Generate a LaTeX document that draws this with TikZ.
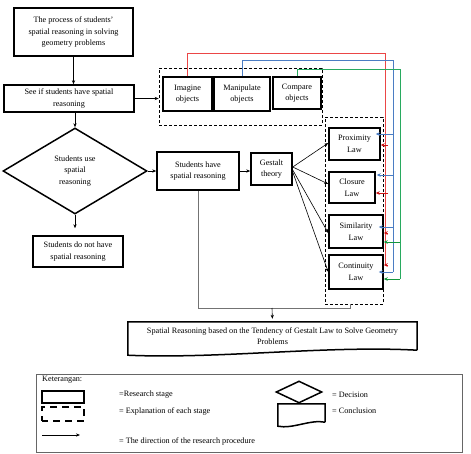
\documentclass[tikz,border=0pt]{standalone}
\usepackage{fontspec}
\setmainfont{Liberation Serif}
\usetikzlibrary{shapes.geometric,arrows.meta}
\definecolor{linkRed}{RGB}{235,70,70}
\definecolor{tipRed}{RGB}{205,20,20}
\definecolor{linkBlue}{RGB}{75,125,195}
\definecolor{linkGreen}{RGB}{40,170,95}
\definecolor{tipGreen}{RGB}{20,150,60}

\begin{document}
\begin{tikzpicture}[
  stagebox/.style={draw=\flowLineColor, line width=\flowBoxLineWidth, align=center, inner sep=0pt, font=\flowFont},
  decbox/.style={diamond, draw=\flowLineColor, line width=\flowBoxLineWidth, align=center, inner sep=0pt, font=\flowFont},
  explframe/.style={draw=\flowLineColor, dash pattern=on 3pt off 2pt, line width=0.6pt, inner sep=0pt},
  concltext/.style={align=center, inner sep=0pt, font=\flowFont},
  legtext/.style={anchor=west, inner sep=0pt, font=\flowFont},
  flow/.style={draw=\flowLineColor, line width=0.6pt, -{Stealth[length=4pt,width=3.2pt]}},
  redlink/.style={draw=\linkRedColor, line width=1pt},
  bluelink/.style={draw=\linkBlueColor, line width=1pt},
  greenlink/.style={draw=\linkGreenColor, line width=1pt},
  redtip/.style={draw=\tipRedColor, line width=0.7pt, -{Stealth[length=4pt,width=3.6pt]}},
  bluetip/.style={draw=\linkBlueColor, line width=0.7pt, -{Stealth[length=4pt,width=3.6pt]}},
  greentip/.style={draw=\tipGreenColor, line width=0.7pt, -{Stealth[length=4pt,width=3.6pt]}}
]
% Flow chart of the research procedure
\def\pxsz{1pt}
\providecommand{\flowFont}{\fontsize{8.2}{11.5}\selectfont}
\providecommand{\flowLineColor}{black}
\providecommand{\flowBoxLineWidth}{1.5pt}
\providecommand{\mergeLineColor}{black!55}
\providecommand{\linkRedColor}{linkRed}
\providecommand{\tipRedColor}{tipRed}
\providecommand{\linkBlueColor}{linkBlue}
\providecommand{\linkGreenColor}{linkGreen}
\providecommand{\tipGreenColor}{tipGreen}
\begin{scope}[x=\pxsz, y=-\pxsz, line join=miter]
  \useasboundingbox (0,0) rectangle (471,453);
  % Research stages on the left
  \node[stagebox, minimum width=119pt, minimum height=48pt] (process) at (73.5,32) {The process of students'\\spatial reasoning in solving\\geometry problems};
  \node[stagebox, minimum width=130pt, minimum height=27pt] (seeif) at (69,98.5) {See if students have spatial\\reasoning};
  \node[decbox, minimum width=144pt, minimum height=86pt] (useq) at (75,171) {Students use\\spatial\\reasoning};
  \node[stagebox, minimum width=90pt, minimum height=31pt] (nohave) at (78,251.5) {Students do not have\\spatial reasoning};
  \node[stagebox, minimum width=82pt, minimum height=38pt] (have) at (198,171) {Students have\\spatial reasoning};
  \node[stagebox, minimum width=41pt, minimum height=32pt] (gestalt) at (271.5,169) {Gestalt\\theory};
  % Explanation of spatial reasoning
  \node[explframe, minimum width=163pt, minimum height=57pt] (objfrm) at (240.5,96.5) {};
  \node[stagebox, minimum width=49pt, minimum height=34pt] (imag) at (187.5,94) {Imagine\\objects};
  \node[stagebox, minimum width=56pt, minimum height=34pt] (manip) at (242,94) {Manipulate\\objects};
  \node[stagebox, minimum width=48pt, minimum height=32pt] (compare) at (297,93) {Compare\\objects};
  % Gestalt laws
  \node[explframe, minimum width=58pt, minimum height=187pt] (lawfrm) at (354,210.5) {};
  \node[stagebox, minimum width=51pt, minimum height=32pt] (prox) at (354.5,144) {Proximity\\Law};
  \node[stagebox, minimum width=46pt, minimum height=31pt] (clos) at (352,187.5) {Closure\\Law};
  \node[stagebox, minimum width=54pt, minimum height=33pt] (simil) at (356,231.5) {Similarity\\Law};
  \node[stagebox, minimum width=54pt, minimum height=34pt] (contin) at (356,272) {Continuity\\Law};
  % Conclusion
  \node[concltext, minimum width=289pt, minimum height=28pt] (concl) at (272.5,336) {Spatial Reasoning based on the Tendency of Gestalt Law to Solve Geometry\\Problems};
  \draw[line width=\flowBoxLineWidth] (concl.south east) -- (concl.north east) -- (concl.north west) -- ([yshift=-5pt]concl.south west) .. controls +(90,4) and +(-90,-5) .. (concl.south east);
  % Procedure arrows
  \draw[flow] (process.south) -- (process.south |- seeif.north);
  \draw[flow] (seeif.east) -- (seeif.east -| objfrm.west);
  \draw[flow] (useq.north |- seeif.south) -- (useq.north);
  \draw[flow, shorten >=7pt] (useq.south) -- (useq.south |- nohave.north);
  \draw[flow] (useq.east) -- (useq.east -| have.west);
  \draw[flow] (have.east) -- (have.east -| gestalt.west);
  \draw[flow] ([yshift=2pt]gestalt.east) -- ([yshift=1pt]prox.west);
  \draw[flow] ([yshift=2pt]gestalt.east) -- ([yshift=3.5pt]clos.west);
  \draw[flow] ([yshift=-1pt]gestalt.east) -- ([yshift=-1.5pt]simil.west);
  \draw[flow] ([yshift=-3pt]gestalt.east) -- (contin.west);
  % Merge into the conclusion
  \coordinate (mergeL) at (195,308);
  \coordinate (mergeR) at (350,308);
  \coordinate (mergeM) at (272,308);
  \draw[draw=\mergeLineColor, line width=0.7pt] (have.south) -- (have.south |- mergeL) -- (mergeR) -- (mergeR |- lawfrm.south);
  \draw[flow, shorten >=3pt] (mergeM) -- (concl.north);
  % Links from the objects to the laws
  \coordinate (redTurn) at (385,53);
  \coordinate (blueTurn) at (393,60);
  \coordinate (greenTurn) at (400,69);
  \coordinate (rProx) at ([yshift=-1pt]prox.east);
  \coordinate (rClos) at ([yshift=-5.5pt]clos.east);
  \coordinate (rSim) at ([yshift=-1.5pt]simil.east);
  \coordinate (rCont) at ([yshift=7pt]contin.east);
  \coordinate (bProx) at ([xshift=-5pt,yshift=10pt]prox.east);
  \coordinate (bClos) at ([xshift=1pt,yshift=12.5pt]clos.east);
  \coordinate (bSim) at ([xshift=-5pt,yshift=4.5pt]simil.east);
  \coordinate (bCont) at ([xshift=-5pt]contin.east);
  \coordinate (gSim) at ([yshift=-10.5pt]simil.east);
  \coordinate (gCont) at ([yshift=-7pt]contin.east);
  \draw[redlink] (imag.north) |- (redTurn) -- (redTurn |- rCont);
  \draw[bluelink] (manip.north) |- (blueTurn) -- (blueTurn |- bCont);
  \draw[greenlink] (compare.north) |- (greenTurn) -- (greenTurn |- gCont);
  \foreach \tip in {bProx,bClos,bSim,bCont}
    \draw[bluetip] (blueTurn |- \tip) -- (\tip);
  \foreach \tip in {rProx,rClos,rSim,rCont}
    \draw[redtip] ([xshift=3pt]redTurn |- \tip) -- (\tip);
  \foreach \tip in {gSim,gCont}
    \draw[greentip] (greenTurn |- \tip) -- (\tip);
  % Legend
  \node[draw=black!60, line width=0.6pt, minimum width=426pt, minimum height=78pt, inner sep=0pt] (legend) at (249,413) {};
  \node[legtext] (legtitle) at (42,380) {Keterangan:};
  \node[draw, line width=\flowBoxLineWidth, minimum width=42pt, minimum height=12pt, inner sep=0pt] (legstage) at (63,397) {};
  \node[draw, line width=\flowBoxLineWidth, dash pattern=on 7pt off 5pt, dash phase=1pt, minimum width=42pt, minimum height=14pt, inner sep=0pt] (legexpl) at (63,414) {};
  \coordinate (legArrS) at (42,435);
  \coordinate (legArrE) at (80,435);
  \draw[flow] (legArrS) -- (legArrE);
  \node[legtext] (legstagetxt) at (119,395) {=Research stage};
  \node[legtext] (legexpltxt) at (119,411) {= Explanation of each stage};
  \node[legtext] (legarrtxt) at (119,441) {= The direction of the research procedure};
  \node[diamond, draw, line width=\flowBoxLineWidth, minimum width=46pt, minimum height=22pt, inner sep=0pt] (legdec) at (299,392) {};
  \node[minimum width=47pt, minimum height=18pt, inner sep=0pt] (legconc) at (301.5,413) {};
  \draw[line width=\flowBoxLineWidth] (legconc.south east) -- (legconc.north east) -- (legconc.north west) -- ([yshift=-4pt]legconc.south west) .. controls +(15,3) and +(-15,-3) .. (legconc.south east);
  \node[legtext] (legdectxt) at (332,395) {= Decision};
  \node[legtext] (legconctxt) at (332,411) {= Conclusion};
\end{scope}
\end{tikzpicture}
\end{document}
